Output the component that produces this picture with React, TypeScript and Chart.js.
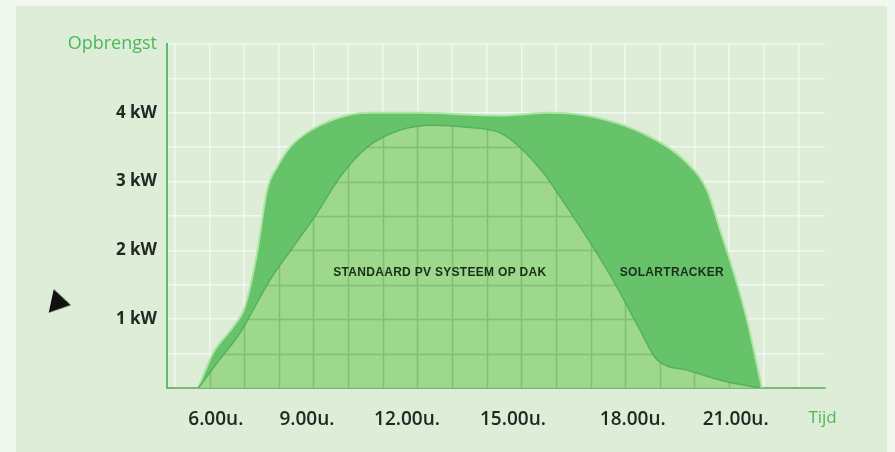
import React, { useEffect, useRef } from 'react';
import { Chart, registerables } from 'chart.js';

Chart.register(...registerables);

// Solar tracker output (hours, kW)
const trackerHours = [5.4, 5.83, 6.41, 6.75, 7.1, 7.39, 7.68, 8.05, 8.54, 9.41, 10.28, 11.81, 14.12, 15.56, 17.0, 18.45, 19.52, 20.09, 20.47, 20.84, 21.25, 21.68];
const trackerKW = [0, 0.51, 0.89, 1.18, 1.96, 2.88, 3.21, 3.5, 3.71, 3.92, 4.0, 4.0, 3.96, 4.0, 3.92, 3.65, 3.27, 2.88, 2.3, 1.72, 0.99, 0];

// Standard PV system on roof (hours, kW)
const pvHours = [5.4, 5.94, 6.61, 6.98, 7.47, 8.14, 8.83, 9.5, 10.28, 11.23, 12.18, 13.16, 14.12, 14.69, 15.36, 16.05, 16.8, 17.49, 18.16, 18.65, 19.52, 20.67, 21.62];
const pvKW = [0, 0.36, 0.8, 1.13, 1.57, 2.05, 2.54, 3.07, 3.5, 3.75, 3.82, 3.79, 3.71, 3.5, 3.13, 2.63, 2.05, 1.47, 0.84, 0.41, 0.26, 0.09, 0];

// Axis labels
const xTickValues = [5.91, 8.54, 11.43, 14.49, 17.95, 20.92, 23.43];
const xTickLabels = ['6.00u.', '9.00u.', '12.00u.', '15.00u.', '18.00u.', '21.00u.', 'Tijd'];
const yTickValues = [1, 2, 3, 4, 5];
const yTickLabels = ['1 kW', '2 kW', '3 kW', '4 kW', 'Opbrengst'];

// In-chart area labels
const areaLabels = ['STANDAARD PV SYSTEEM OP DAK', 'SOLARTRACKER'];
const areaLabelHours = [12.38, 19.08];
const areaLabelKW = [1.67, 1.67];

const X_MIN = 4.5;
const X_MAX = 23.5;
const GRID_X_START = 4.73;
const Y_MIN = 0;
const Y_MAX = 5;
const Y_GRID_STEP = 0.5;

const GREEN_TEXT = '#4cb85a';
const DARK_TEXT = '#222822';

function buildXGrid(): number[] {
  const out: number[] = [];
  for (let v = GRID_X_START; v < X_MAX; v += 1) out.push(+v.toFixed(3));
  return out;
}
function buildYGrid(): number[] {
  const out: number[] = [];
  for (let v = Y_MIN; v <= Y_MAX + 1e-9; v += Y_GRID_STEP) out.push(+v.toFixed(3));
  return out;
}

export default function App() {
  const ref = useRef<HTMLCanvasElement | null>(null);

  useEffect(() => {
    if (!ref.current) return;
    const xGrid = buildXGrid();
    const yGrid = buildYGrid();

    const bgPlugin = {
      id: 'bgPanel',
      beforeDraw(chart: any) {
        const { ctx, width, height } = chart;
        ctx.save();
        ctx.fillStyle = '#f1f8ef';
        ctx.fillRect(0, 0, width, height);
        ctx.fillStyle = '#ddedd7';
        ctx.fillRect(16, 6, width - 24, height - 6);
        ctx.restore();
      },
    };

    const overlayPlugin = {
      id: 'pvGridAndLabels',
      afterDatasetsDraw(chart: any) {
        const { ctx, chartArea } = chart;
        const xs = chart.scales.x;
        const ys = chart.scales.y;
        const meta = chart.getDatasetMeta(0);
        const pts = meta.data;
        ctx.save();
        ctx.beginPath();
        const line: any = meta.dataset;
        if (line && typeof line.path === 'function') {
          line.path(ctx);
        } else {
          ctx.moveTo(pts[0].x, pts[0].y);
          for (let i = 1; i < pts.length; i++) ctx.lineTo(pts[i].x, pts[i].y);
        }
        ctx.lineTo(pts[pts.length - 1].x, chartArea.bottom);
        ctx.lineTo(pts[0].x, chartArea.bottom);
        ctx.closePath();
        ctx.clip();
        ctx.strokeStyle = 'rgba(70,140,60,0.32)';
        ctx.lineWidth = 1.5;
        ctx.beginPath();
        for (const v of xGrid) {
          const px = Math.round(xs.getPixelForValue(v)) + 0.5;
          ctx.moveTo(px, chartArea.top);
          ctx.lineTo(px, chartArea.bottom);
        }
        for (const v of yGrid) {
          const py = Math.round(ys.getPixelForValue(v)) + 0.5;
          ctx.moveTo(chartArea.left, py);
          ctx.lineTo(chartArea.right, py);
        }
        ctx.stroke();
        ctx.restore();

        ctx.save();
        ctx.fillStyle = '#1c2e1a';
        ctx.font = 'bold 12px "Liberation Sans", Arial, sans-serif';
        ctx.textAlign = 'center';
        ctx.textBaseline = 'middle';
        try { (ctx as any).letterSpacing = '0.3px'; } catch (e) {}
        areaLabels.forEach((t, i) => {
          ctx.fillText(t, xs.getPixelForValue(areaLabelHours[i]), ys.getPixelForValue(areaLabelKW[i]));
        });
        ctx.restore();
      },
    };

    const chart = new Chart(ref.current, {
      type: 'line',
      data: {
        datasets: [
          {
            label: 'Standaard PV systeem op dak',
            data: pvHours.map((h, i) => ({ x: h, y: pvKW[i] })),
            backgroundColor: '#9dd88c',
            borderColor: '#55b35b',
            borderWidth: 1.5,
            fill: 'origin',
            pointRadius: 0,
            cubicInterpolationMode: 'monotone',
          },
          {
            label: 'Solartracker',
            data: trackerHours.map((h, i) => ({ x: h, y: trackerKW[i] })),
            backgroundColor: '#66c36a',
            borderColor: '#aee6a6',
            borderWidth: 2,
            fill: 'origin',
            pointRadius: 0,
            cubicInterpolationMode: 'monotone',
          },
        ],
      },
      options: {
        responsive: false,
        animation: false,
        devicePixelRatio: 1,
        layout: { padding: { left: 0, top: 44, right: 70, bottom: 0 } },
        plugins: {
          legend: { display: false },
          tooltip: { enabled: false },
        },
        scales: {
          x: {
            type: 'linear',
            min: X_MIN,
            max: X_MAX,
            afterBuildTicks: (scale: any) => {
              const vals = [...xGrid, ...xTickValues].sort((a, b) => a - b);
              scale.ticks = vals.map((v) => ({ value: v }));
            },
            afterFit: (scale: any) => {
              scale.height = 64;
            },
            grid: {
              color: (c: any) =>
                c.tick && xTickValues.includes(c.tick.value) ? 'rgba(0,0,0,0)' : 'rgba(255,255,255,0.6)',
              lineWidth: 1.5,
              drawTicks: false,
            },
            border: { display: true, color: '#7ab878', width: 2 },
            ticks: {
              autoSkip: false,
              maxRotation: 0,
              padding: 20,
              callback: (value: any) => {
                const i = xTickValues.indexOf(value);
                return i >= 0 ? xTickLabels[i] : '';
              },
              color: (c: any) => (c.tick && c.tick.value === xTickValues[xTickValues.length - 1] ? GREEN_TEXT : DARK_TEXT),
              font: (c: any) =>
                c.tick && c.tick.value === xTickValues[xTickValues.length - 1]
                  ? { family: '"Open Sans", sans-serif', size: 17, weight: 'normal' }
                  : { family: '"Open Sans", sans-serif', size: 19, weight: '600' },
            },
          },
          y: {
            type: 'linear',
            min: Y_MIN,
            max: Y_MAX,
            afterBuildTicks: (scale: any) => {
              scale.ticks = yGrid.map((v) => ({ value: v }));
            },
            afterFit: (scale: any) => {
              scale.width = 167;
            },
            grid: {
              color: 'rgba(255,255,255,0.6)',
              lineWidth: 1.5,
              drawTicks: false,
            },
            border: { display: true, color: '#62bd66', width: 2 },
            ticks: {
              autoSkip: false,
              padding: 10,
              callback: (value: any) => {
                const i = yTickValues.indexOf(value);
                return i >= 0 ? yTickLabels[i] : '';
              },
              color: (c: any) => (c.tick && c.tick.value === Y_MAX ? GREEN_TEXT : DARK_TEXT),
              font: (c: any) =>
                c.tick && c.tick.value === Y_MAX
                  ? { family: '"Open Sans", sans-serif', size: 18, weight: 'normal' }
                  : { family: '"Open Sans", sans-serif', size: 17, weight: 'bold' },
            },
          },
        },
      },
      plugins: [bgPlugin, overlayPlugin],
    } as any);

    return () => chart.destroy();
  }, []);

  return (
    <div style={{ position: 'fixed', left: 0, top: 0, width: 895, height: 452 }}>
      <canvas ref={ref} width={895} height={452} style={{ display: 'block', width: 895, height: 452 }} />
      <div
        style={{
          position: 'absolute',
          left: 51,
          top: 291,
          width: 0,
          height: 0,
          borderLeft: '20px solid #111',
          borderTop: '12px solid transparent',
          borderBottom: '12px solid transparent',
          transform: 'rotate(12deg)',
        }}
      />
    </div>
  );
}
